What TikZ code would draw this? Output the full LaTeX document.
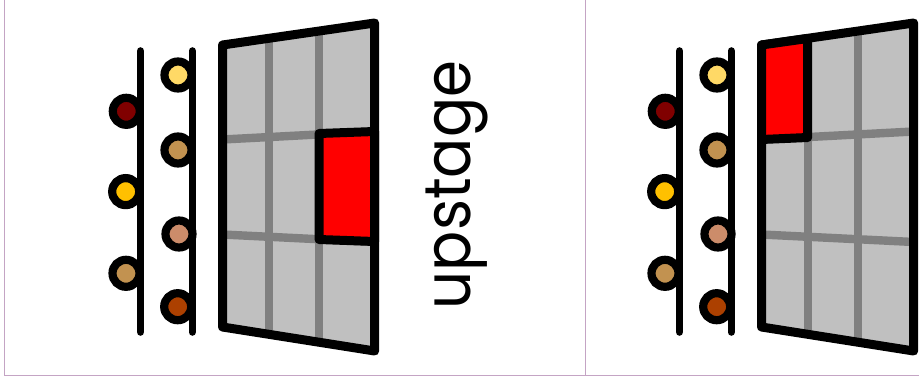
\documentclass[tikz,border=0pt]{standalone}
\usepackage{fontspec}
\setmainfont{Liberation Sans}
\newfontfamily\labelfont[FakeStretch=0.915]{Poppins}
\definecolor{framepink}{RGB}{196,164,196}
\definecolor{boardgray}{RGB}{192,192,192}
\definecolor{linegray}{RGB}{128,128,128}
\definecolor{darkred}{RGB}{128,0,0}
\definecolor{lampyellow}{RGB}{255,217,102}
\definecolor{lamptan}{RGB}{194,146,80}
\definecolor{lampgold}{RGB}{255,192,0}
\definecolor{lamppink}{RGB}{204,140,106}
\definecolor{lampbrown}{RGB}{172,64,0}
\tikzset{
  lamp/.style={circle, draw=black, line width=8.2pt, minimum size=27pt, inner sep=0pt},
  pole/.style={black, line width=7.6pt, line cap=round},
  gridline/.style={linegray, line width=8.4pt},
  outline/.style={draw=black, line width=9pt, line join=round}
}

\begin{document}
\begin{tikzpicture}[x=1pt, y=-1pt]
  \useasboundingbox (0,0) rectangle (919,378);

  % frame
  \draw[framepink, line width=1pt] (4.7,0) -- (4.7,375.5) -- (919,375.5);
  \draw[framepink, line width=1pt] (585,0) -- (585,375.5);

  % both panels
  \foreach \dx/\side in {0/l, 539/r} {
    \begin{scope}[shift={(\dx,0)}]
      \fill[boardgray] (222.5,45) -- (374.7,23) -- (374.7,351) -- (222.5,327) -- cycle;
      \draw[gridline] (268.7,42) -- (268.7,334);
      \draw[gridline] (319,35) -- (319,342);
      \draw[gridline] (222.5,139.5) -- (374.7,131.5);
      \draw[gridline] (222.5,234.5) -- (374.7,242);
      \draw[outline] (222.5,45) -- (374.7,23) -- (374.7,351) -- (222.5,327) -- cycle;

      % lights
      \draw[pole] (140.5,51) -- (140.5,332);
      \draw[pole] (192.3,51) -- (192.3,332);
      \node[lamp, fill=darkred] (\side red) at (126.3,111.3) {};
      \node[lamp, fill=lampgold] (\side gold) at (125.7,191.6) {};
      \node[lamp, fill=lamptan] (\side tan) at (126,273.3) {};
      \node[lamp, fill=lampyellow] (\side yellow) at (178,75) {};
      \node[lamp, fill=lamptan] (\side ochre) at (178,150) {};
      \node[lamp, fill=lamppink] (\side pink) at (179,234) {};
      \node[lamp, fill=lampbrown] (\side brown) at (177.7,306.7) {};
    \end{scope}
  }

  % red cells
  \draw[outline, fill=red] (319,133.5) -- (374.7,131.5) -- (374.7,241.5) -- (319,239.5) -- cycle;
  \draw[outline, fill=red] (761.5,45) -- (807.7,38.5) -- (807.7,137.5) -- (761.5,139.5) -- cycle;

  \node[rotate=90, anchor=base, font=\labelfont\fontsize{65}{65}\selectfont] (upstagelabel) at (470,185) {upstage};
\end{tikzpicture}
\end{document}
